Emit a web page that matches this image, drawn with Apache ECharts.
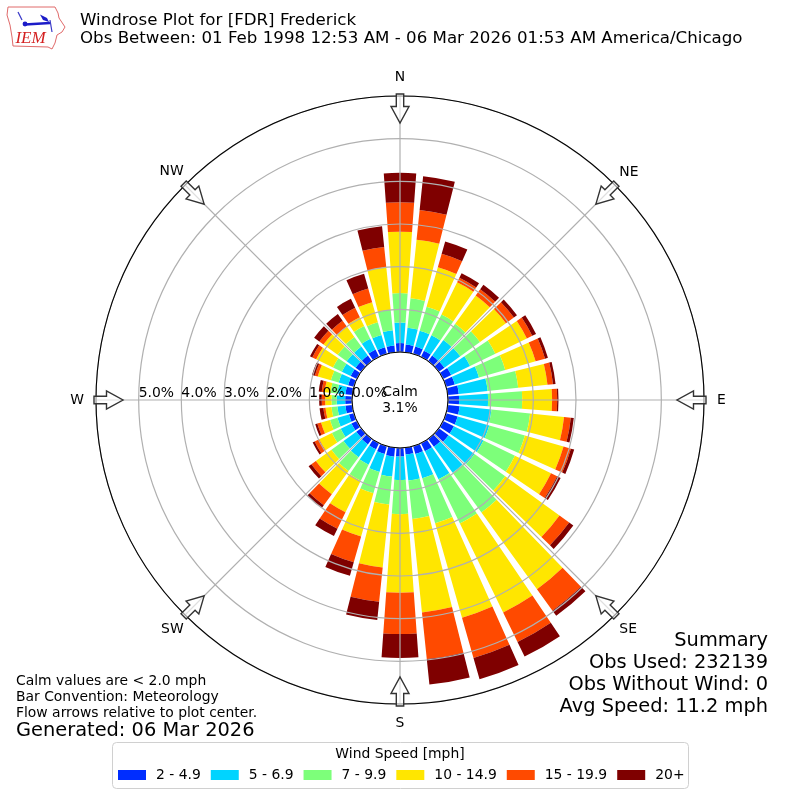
<!DOCTYPE html>
<html>
<head>
<meta charset="utf-8">
<title>Windrose Plot for [FDR] Frederick</title>
<script src="https://cdn.jsdelivr.net/npm/echarts@6/dist/echarts.min.js"></script>
<style>html,body{margin:0;padding:0;background:#fff}#c{width:800px;height:800px}</style>
</head>
<body>
<div id="c"></div>
<script>
// Direction bins, clockwise from north, 10 degrees apart.
const directions = ['0','10','20','30','40','50','60','70','80','90','100','110','120','130','140','150','160','170','180','190','200','210','220','230','240','250','260','270','280','290','300','310','320','330','340','350'];

// Percent of observations per direction bin, one list per speed class.
const speed2to5 = [.21,.18,.18,.16,.16,.16,.21,.21,.26,.26,.28,.28,.28,.28,.23,.21,.19,.16,.20,.21,.19,.16,.16,.14,.14,.12,.16,.16,.16,.14,.16,.16,.16,.19,.16,.16];
const speed5to7 = [.48,.40,.38,.40,.45,.46,.49,.59,.68,.68,.75,.77,.77,.75,.75,.73,.59,.61,.55,.47,.44,.40,.37,.37,.28,.28,.19,.20,.19,.23,.23,.26,.26,.28,.30,.36];
const speed7to10 = [.69,.69,.59,.54,.47,.57,.66,.64,.72,.80,.91,.87,.82,.89,1.15,1.15,1.10,.91,.80,.66,.52,.42,.40,.35,.23,.18,.14,.12,.16,.19,.23,.26,.28,.33,.31,.48];
const speed10to15 = [1.44,1.38,.96,.84,.82,.75,.82,.74,.69,.70,.80,.94,.94,1.57,2.22,2.32,2.30,2.20,1.84,1.48,1.05,.82,.67,.45,.33,.22,.14,.15,.14,.32,.44,.41,.30,.23,.49,1.00];
const speed15to20 = [.69,.70,.33,.12,.18,.23,.14,.23,.13,.12,.16,.18,.16,.28,.62,.77,.98,1.10,.97,.81,.63,.43,.32,.13,.12,.09,.05,.08,.07,.07,.10,.12,.17,.25,.33,.48];
const speed20up = [.69,.80,.30,.12,.13,.09,.10,.07,.06,.03,.07,.08,.09,.12,.15,.38,.52,.60,.56,.43,.33,.19,.08,.08,.05,.05,.09,.06,.07,.07,.06,.15,.19,.23,.36,.49];

const speedClasses = ['2 - 4.9','5 - 6.9','7 - 9.9','10 - 14.9','15 - 19.9','20+'];
const speedValues = [speed2to5,speed5to7,speed7to10,speed10to15,speed15to20,speed20up];
const speedColors = ['#002dff','#00d4ff','#7dff7a','#ffe600','#ff4a00','#7f0000'];

// Compass names in the order the grid's angle axis visits them, starting at west.
const compassNames = ['W','NW','N','NE','E','SE','S','SW'];
const percentTicks = [0,1,2,3,4,5,6];

const FONT = '"DejaVu Sans"';
const cx = 400, cy = 400, rIn = 48, rOut = 304;

// Extra space around each compass name, [top, right, bottom, left].
const compassPadding = {W:[0,10,0,0],NW:[0,0,5,0],N:[0,0,10,0],NE:[0,0,4,3],E:[0,0,0,11],SE:[6,0,0,3],S:[10,0,0,0],SW:[6,0,0,0]};
const compassRich = {};
compassNames.forEach(n => { compassRich[n] = {fontSize:13.9,color:'#000',fontFamily:FONT,padding:compassPadding[n]}; });

// Hollow flow arrow, drawn pointing down from the top of the plot, then rotated.
const arrowShape = [[-3.7,-306],[3.7,-306],[3.7,-293.5],[9,-293.5],[0,-277],[-9,-293.5],[-3.7,-293.5]];
const arrows = [0,45,90,135,180,225,270,315].map(a => ({
  type:'polygon', x:cx, y:cy, rotation:-a*Math.PI/180, z:20,
  shape:{points:arrowShape},
  style:{fill:'rgba(255,255,255,0.6)',stroke:'#333',lineWidth:1.4}
}));

function label(text,x,y,size,align){
  return {type:'text',z:30,style:{text,x,y,fill:'#000',font:size+'px '+FONT,textAlign:align||'left',textVerticalAlign:'middle'}};
}

// IEM mark: state outline, weather symbols and lettering.
const stateOutline = [[8,7],[55,7],[58,13],[59,18],[65,27],[62,32],[57,35],[55,43],[52,49],[48,47],[13,46],[12,37],[10,25],[7,15]];
const logo = [
  {type:'polygon',shape:{points:stateOutline},style:{fill:'#fff',stroke:'#e06a6a',lineWidth:1},z:20},
  {type:'polyline',shape:{points:[[25,24.5],[50,23]]},style:{stroke:'#1c1cc8',lineWidth:2.4,fill:null},z:21},
  {type:'polyline',shape:{points:[[18,12],[22,20]]},style:{stroke:'#3a3ac8',lineWidth:1.2,fill:null},z:21},
  {type:'polygon',shape:{points:[[40,14.5],[47,18],[49,22],[43,20]]},style:{fill:'#1c1cc8'},z:21},
  {type:'polyline',shape:{points:[[50,20],[52,32]]},style:{stroke:'#3a3ac8',lineWidth:1.2,fill:null},z:21},
  {type:'circle',shape:{cx:25,cy:24,r:2.4},style:{fill:'#1c1cc8'},z:21},
  {type:'text',z:21,style:{text:'IEM',x:30.5,y:38.5,fill:'#d42020',font:'italic 17px "Liberation Serif"',textAlign:'center',textVerticalAlign:'middle'}}
];

const option = {
  animation:false,
  backgroundColor:'#fff',
  textStyle:{fontFamily:FONT},
  polar:[
    {center:[cx,cy],radius:[rIn,rOut]},
    {center:[cx,cy],radius:[rIn,rOut]}
  ],
  angleAxis:[
    // Bars: each band is centred on its compass bearing.
    {polarIndex:0,type:'category',data:directions,startAngle:95,clockwise:true,show:false},
    // Grid: spokes every 45 degrees, with compass names outside the rim.
    {polarIndex:1,type:'value',min:0,max:360,interval:45,startAngle:180,clockwise:true,z:5,
      axisLine:{show:false},
      axisTick:{show:false},
      splitLine:{show:true,lineStyle:{color:'#b0b0b0',width:1.2}},
      axisLabel:{show:true,margin:2,rich:compassRich,
        formatter:v=>{const n=compassNames[Math.round(v/45)%8];return '{'+n+'|'+n+'}';}}}
  ],
  radiusAxis:[
    {polarIndex:0,type:'value',min:0,max:6,show:false},
    {polarIndex:1,type:'value',min:percentTicks[0],max:percentTicks[percentTicks.length-1],interval:1,z:6,
      axisLine:{show:false},axisTick:{show:false},
      splitLine:{show:true,lineStyle:{color:'#b0b0b0',width:1.2}},
      axisLabel:{show:true,showMaxLabel:false,margin:0,align:'left',verticalAlign:'bottom',fontSize:13.9,color:'#000',fontFamily:FONT,
        formatter:v=>v.toFixed(1)+'%'}}
  ],
  legend:{
    left:113,top:763,itemWidth:28,itemHeight:10,itemGap:10,icon:'rect',
    data:speedClasses,
    textStyle:{fontSize:13.9,color:'#000',fontFamily:FONT,padding:[0,0,0,5]}
  },
  series:speedClasses.map((name,i)=>({
    name,type:'bar',coordinateSystem:'polar',polarIndex:0,stack:'rose',
    barWidth:'82%',data:speedValues[i],
    itemStyle:{color:speedColors[i],borderWidth:0},
    z:2
  })),
  graphic:{elements:[
    // Inner hole and outer rim of the plot.
    {type:'circle',z:8,shape:{cx,cy,r:rIn},style:{fill:'transparent',stroke:'#000',lineWidth:1}},
    {type:'circle',z:8,shape:{cx,cy,r:rOut},style:{fill:'transparent',stroke:'#000',lineWidth:1.1}},
    label('Calm',cx,392,13.9,'center'),
    label('3.1%',cx,408,13.9,'center'),
    ...arrows,
    ...logo,
    label('Windrose Plot for [FDR] Frederick',80,21,16.67),
    label('Obs Between: 01 Feb 1998 12:53 AM - 06 Mar 2026 01:53 AM America/Chicago',80,39,16.67),
    label('Calm values are < 2.0 mph',16,681,13.9),
    label('Bar Convention: Meteorology',16,697,13.9),
    label('Flow arrows relative to plot center.',16,713,13.9),
    label('Generated: 06 Mar 2026',16,731,19.4),
    label('Summary',768,641,19.4,'right'),
    label('Obs Used: 232139',768,663,19.4,'right'),
    label('Obs Without Wind: 0',768,685,19.4,'right'),
    label('Avg Speed: 11.2 mph',768,707,19.4,'right'),
    {type:'rect',z:1,shape:{x:112.5,y:742.5,width:576,height:46,r:4},style:{fill:'#fff',stroke:'#d0d0d0',lineWidth:1}},
    label('Wind Speed [mph]',400,754,13.9,'center')
  ]}
};

echarts.init(document.getElementById('c'),null,{renderer:'canvas'}).setOption(option);
</script>
</body>
</html>
